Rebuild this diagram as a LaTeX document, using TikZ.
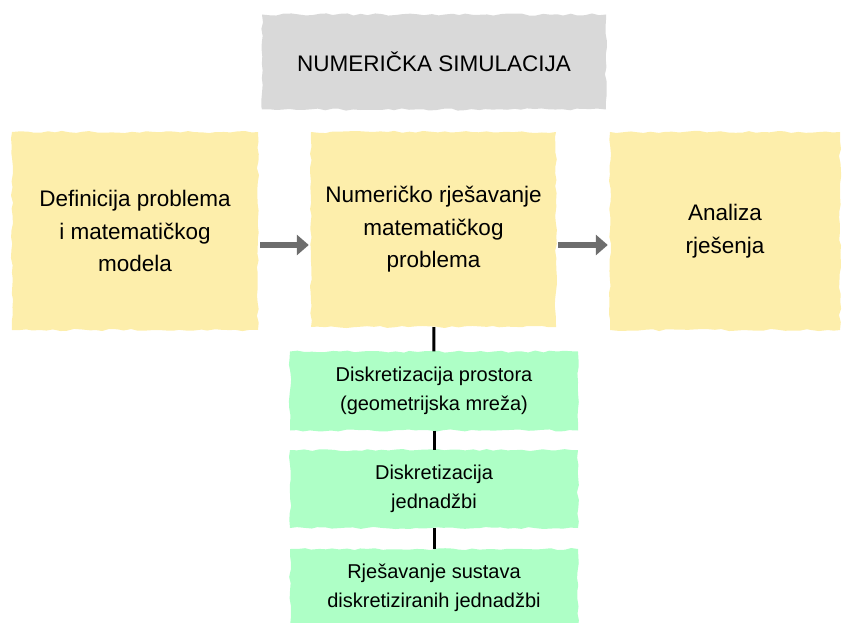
\documentclass[tikz,border=0pt]{standalone}
\usepackage{fontspec}
\setmainfont{Liberation Sans}
\usetikzlibrary{arrows.meta,decorations.pathmorphing}
\definecolor{paper}{HTML}{D9D9D9}
\definecolor{note}{HTML}{FDEEAB}
\definecolor{mint}{HTML}{AEFFC6}
\definecolor{arrowgray}{HTML}{6D6D6D}

\begin{document}
\begin{tikzpicture}[x=1pt,y=-1pt,
  torn/.style={decorate,decoration={random steps,segment length=7pt,amplitude=1.1pt},inner sep=0pt,align=center},
  titlebox/.style={torn,fill=paper,minimum width=344pt,minimum height=95pt,font=\fontsize{22.5}{32}\selectfont},
  stagebox/.style={torn,fill=note,minimum height=198pt,font=\fontsize{22.5}{32.5}\selectfont},
  substep/.style={torn,fill=mint,minimum width=288pt,minimum height=79pt,font=\fontsize{20}{29}\selectfont},
  flow/.style={-{Triangle[length=12pt,width=20pt]},line width=6.5pt,arrowgray},
  link/.style={line width=3pt}]
\useasboundingbox (0,0) rectangle (843,623);
\node[titlebox] (sim) at (434,62) {NUMERIČKA SIMULACIJA};
\node[stagebox,minimum width=246pt] (def) at (135,231) {Definicija problema\\i matematičkog\\modela};
\node[stagebox,minimum width=245pt,minimum height=195pt] (solve) at (433.5,229.5) {Numeričko rješavanje\\matematičkog\\problema};
\node[stagebox,minimum width=230pt] (anal) at (725,231) {Analiza\\rješenja};
\node[substep] (space) at (434,391) {Diskretizacija prostora\\(geometrijska mreža)};
\node[substep,minimum height=78pt] (eqs) at (434,489) {Diskretizacija\\jednadžbi};
\node[substep,minimum height=78pt] (sys) at (434,588) {Rješavanje sustava\\diskretiziranih jednadžbi};
\coordinate (lane) at (0,245);
\draw[flow] ([xshift=2pt]def.east |- lane) -- ([xshift=-2pt]solve.west |- lane);
\draw[flow] ([xshift=2pt]solve.east |- lane) -- ([xshift=-2pt]anal.west |- lane);
\draw[link] (solve) -- (space);
\draw[link] (space) -- (eqs);
\draw[link] (eqs) -- (sys);
\end{tikzpicture}
\end{document}
